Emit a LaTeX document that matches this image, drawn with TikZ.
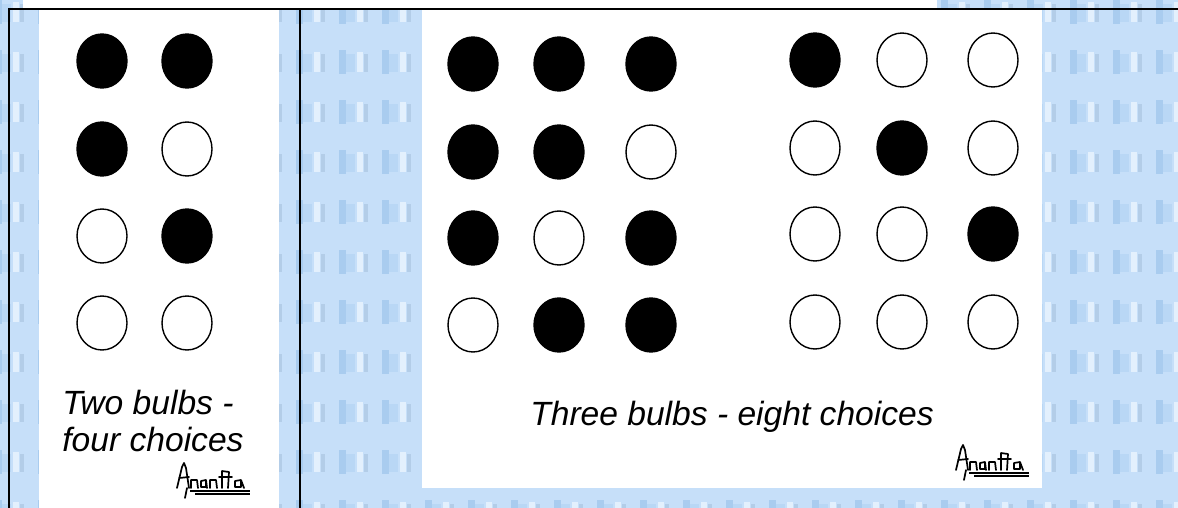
\documentclass[tikz,border=0pt]{standalone}
\usepackage{fontspec}
\setmainfont{Liberation Sans}
\usetikzlibrary{shapes.geometric}
\definecolor{PanelBlue}{HTML}{C6DFF9}
\definecolor{TileDark}{HTML}{A9CCEF}
\definecolor{TileMid}{HTML}{B9D7F5}
\definecolor{TileLight}{HTML}{E3F0FD}
\definecolor{TileGrey}{HTML}{B3CDE8}

\tikzset{
  lamp/.style={ellipse,draw=black,line width=0.7pt,fill=#1,
    minimum width=25pt,minimum height=27pt,inner sep=0pt},
  caption/.style={font=\fontsize{16.8}{18.5}\selectfont\itshape,inner sep=0pt},
  rule/.style={line width=1pt},
  sig/.pic={
    \draw[line width=0.85pt,line join=round,line cap=round]
      (0,25) -- (5,4) -- (7,0) -- (9,5) -- (12,25)
      (2,15) -- (12,14)
      (10,25) -- (8,35)
      (14,25) -- (14,17) -- (20,17) -- (21,25)
      (29,17) -- (24,18) -- (24,24) -- (29,24) -- (29,17) -- (30,25)
      (33,25) -- (33,17) -- (39,17) -- (40,25)
      (45,8) -- (45,25) (42,14) -- (55,14) (45,8) -- (52,9) -- (51,25)
      (64,17) -- (58,18) -- (58,24) -- (64,24) -- (64,17) -- (67,25);
    \draw[line width=1pt] (13,28) -- (73,28) (18,30.5) -- (73,30.5);
  }
}

\begin{document}
\begin{tikzpicture}[x=0.5pt,y=-0.5pt]
\useasboundingbox (0,0) rectangle (1178,508);
% patterned backdrop
\begin{scope}
\clip (0,0) rectangle (1178,508);
\fill[PanelBlue] (0,0) rectangle (1178,508);
\foreach \i in {0,...,27}
  \foreach \j in {0,...,10}{
    \fill[TileDark] ({-5+43*\i},{50*\j}) rectangle ++(7,24);
    \fill[TileMid] ({2+43*\i},{4+50*\j}) rectangle ++(9,18);
    \fill[TileLight] ({13+43*\i},{2+50*\j}) rectangle ++(6,20);
    \fill[TileGrey] ({20+43*\i},{4+50*\j}) rectangle ++(4,18);
  }
\end{scope}
% white panels
\fill[white] (23,0) rectangle (937,9);
\fill[white] (39,9) rectangle (279,508);
\fill[white] (422,9) rectangle (1042,488);
% table rules
\draw[rule] (9,508) -- (9,9) -- (1178,9);
\draw[rule] (300,9) -- (300,508);

% two bulbs
\foreach \r/\y/\a/\b in {1/61/black/black,2/149/black/white,3/236/white/black,4/323/white/white}{
  \node[lamp=\a] (two-\r-1) at (102,\y) {};
  \node[lamp=\b] (two-\r-2) at (187,\y) {};
}
% three bulbs, first half
\foreach \r/\y/\a/\b/\c in {1/64/black/black/black,2/152/black/black/white,3/238/black/white/black,4/325/white/black/black}{
  \node[lamp=\a] (threeA-\r-1) at (473,\y) {};
  \node[lamp=\b] (threeA-\r-2) at (559,\y) {};
  \node[lamp=\c] (threeA-\r-3) at (651,\y) {};
}
% three bulbs, second half
\foreach \r/\y/\a/\b/\c in {1/60/black/white/white,2/148/white/black/white,3/234/white/white/black,4/322/white/white/white}{
  \node[lamp=\a] (threeB-\r-1) at (815,\y) {};
  \node[lamp=\b] (threeB-\r-2) at (902,\y) {};
  \node[lamp=\c] (threeB-\r-3) at (993,\y) {};
}

\node[caption,anchor=base west] (two-a) at (62,414) {Two bulbs -};
\node[caption,anchor=base west] (two-b) at (62,451) {four choices};
\node[caption,anchor=base] (three) at (732,425) {Three bulbs - eight choices};

\pic at (177,463) {sig};
\pic at (956,445) {sig};
\end{tikzpicture}
\end{document}
